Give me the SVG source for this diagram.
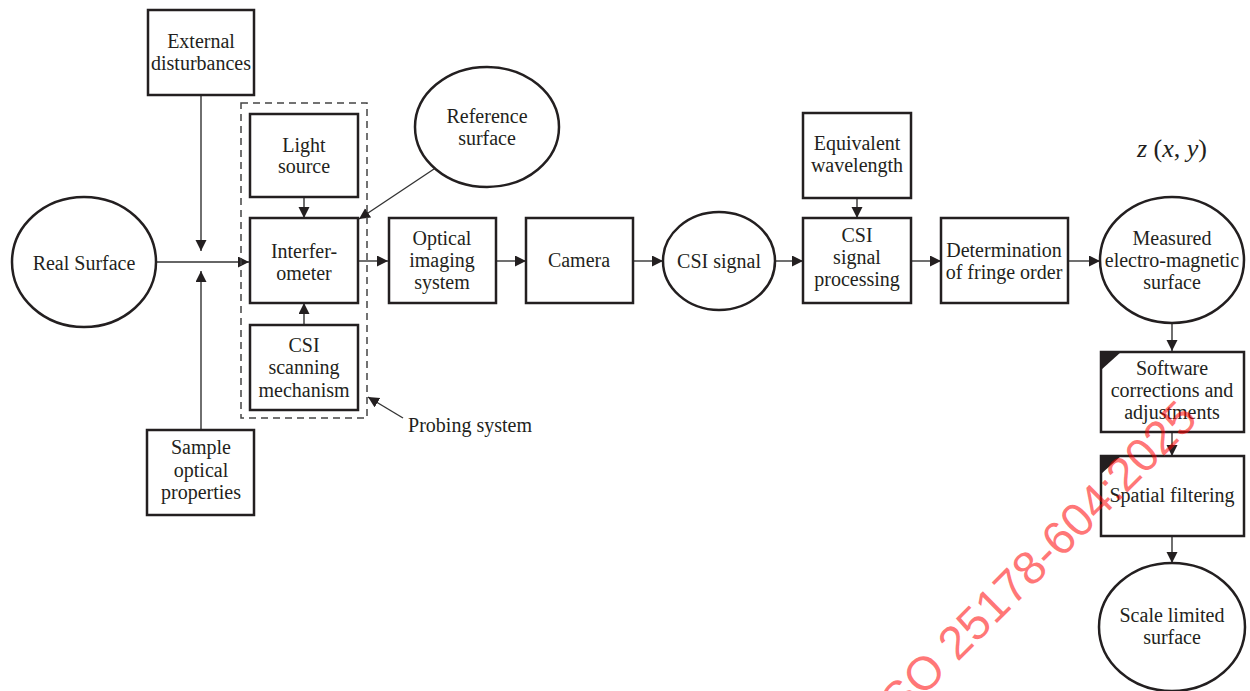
<svg xmlns="http://www.w3.org/2000/svg" width="1250" height="691" viewBox="0 0 1250 691">
<style>
.box{fill:#fff;stroke:#231f20;stroke-width:2.5}
.ell{fill:#fff;stroke:#231f20;stroke-width:2.5}
.t{font-family:"Liberation Serif","Times New Roman",serif;font-size:20px;fill:#231f20;text-anchor:middle}
.c{stroke:#333;stroke-width:1.4;fill:none}
.ca{stroke:#333;stroke-width:1.4;fill:none;marker-end:url(#ah)}
.tri{fill:#231f20}
</style>
<defs>
<marker id="ah" markerWidth="12" markerHeight="12" refX="11" refY="5.5" orient="auto" markerUnits="userSpaceOnUse">
<path d="M0,0 L11,5.5 L0,11 Z" fill="#231f20"/>
</marker>
</defs>
<rect width="1250" height="691" fill="#fff"/>
<g id="connectors">
<line class="ca" x1="201" y1="95" x2="201" y2="251"/>
<line class="ca" x1="201" y1="430" x2="201" y2="271"/>
<line class="ca" x1="156" y1="262" x2="249" y2="262"/>
<line class="ca" x1="304" y1="197" x2="304" y2="218"/>
<line class="ca" x1="304" y1="325" x2="304" y2="303"/>
<line class="ca" x1="437" y1="167" x2="359" y2="219"/>
<line class="ca" x1="358" y1="261" x2="388" y2="261"/>
<line class="ca" x1="496" y1="261" x2="526" y2="261"/>
<line class="ca" x1="633" y1="261" x2="663" y2="261"/>
<line class="ca" x1="776" y1="261" x2="803" y2="261"/>
<line class="ca" x1="857" y1="198" x2="857" y2="218"/>
<line class="ca" x1="911" y1="261" x2="941" y2="261"/>
<line class="ca" x1="1068" y1="261" x2="1100" y2="261"/>
<line class="ca" x1="1172" y1="324" x2="1172" y2="351"/>
<line class="ca" x1="1172" y1="432" x2="1172" y2="456"/>
<line class="ca" x1="1172" y1="536" x2="1172" y2="563"/>
<line class="ca" x1="403" y1="418" x2="368" y2="397"/>
</g>
<g id="probing-system">
<rect x="241" y="103" width="126" height="315" fill="none" stroke="#444" stroke-width="1.5" stroke-dasharray="7,5"/>
<text class="t" x="470" y="432">Probing system</text>
</g>
<g id="external-disturbances">
<rect class="box" x="148" y="10" width="106" height="85"/>
<text class="t" x="201" y="48">External</text>
<text class="t" x="201" y="70">disturbances</text>
</g>
<g id="real-surface">
<ellipse class="ell" cx="84" cy="262" rx="72" ry="65"/>
<text class="t" x="84" y="270">Real Surface</text>
</g>
<g id="sample-optical-properties">
<rect class="box" x="147" y="430" width="107" height="85"/>
<text class="t" x="201" y="454">Sample</text>
<text class="t" x="201" y="477">optical</text>
<text class="t" x="201" y="499">properties</text>
</g>
<g id="light-source">
<rect class="box" x="250" y="114" width="108" height="83"/>
<text class="t" x="304" y="152">Light</text>
<text class="t" x="304" y="173">source</text>
</g>
<g id="interferometer">
<rect class="box" x="250" y="218" width="108" height="85"/>
<text class="t" x="304" y="258">Interfer-</text>
<text class="t" x="304" y="280">ometer</text>
</g>
<g id="csi-scanning">
<rect class="box" x="250" y="325" width="108" height="85"/>
<text class="t" x="304" y="352">CSI</text>
<text class="t" x="304" y="374">scanning</text>
<text class="t" x="304" y="397">mechanism</text>
</g>
<g id="reference-surface">
<ellipse class="ell" cx="487" cy="127" rx="72" ry="60"/>
<text class="t" x="487" y="123">Reference</text>
<text class="t" x="487" y="145">surface</text>
</g>
<g id="optical-imaging">
<rect class="box" x="389" y="218" width="107" height="85"/>
<text class="t" x="442" y="245">Optical</text>
<text class="t" x="442" y="267">imaging</text>
<text class="t" x="442" y="289">system</text>
</g>
<g id="camera">
<rect class="box" x="526" y="218" width="107" height="85"/>
<text class="t" x="579" y="267">Camera</text>
</g>
<g id="csi-signal">
<ellipse class="ell" cx="719" cy="261" rx="56" ry="49"/>
<text class="t" x="719" y="268">CSI signal</text>
</g>
<g id="equivalent-wavelength">
<rect class="box" x="803" y="113" width="108" height="85"/>
<text class="t" x="857" y="150">Equivalent</text>
<text class="t" x="857" y="172">wavelength</text>
</g>
<g id="csi-signal-processing">
<rect class="box" x="803" y="218" width="108" height="85"/>
<text class="t" x="857" y="242">CSI</text>
<text class="t" x="857" y="264">signal</text>
<text class="t" x="857" y="286">processing</text>
</g>
<g id="fringe-order">
<rect class="box" x="941" y="218" width="127" height="85"/>
<text class="t" x="1004" y="257">Determination</text>
<text class="t" x="1004" y="279">of fringe order</text>
</g>
<g id="measured-surface">
<ellipse class="ell" cx="1172" cy="260" rx="72" ry="63"/>
<text class="t" x="1172" y="245">Measured</text>
<text class="t" x="1172" y="267">electro-magnetic</text>
<text class="t" x="1172" y="289">surface</text>
</g>
<g id="zxy">
<text x="1172" y="157" style="font-family:'Liberation Serif','Times New Roman',serif;font-size:26px;fill:#231f20;text-anchor:middle"><tspan font-style="italic">z</tspan> (<tspan font-style="italic">x</tspan>, <tspan font-style="italic">y</tspan>)</text>
</g>
<g id="software-corrections">
<rect class="box" x="1101" y="352" width="143" height="80"/>
<path class="tri" d="M1101,352 L1121,352 L1101,370 Z"/>
<text class="t" x="1172" y="375">Software</text>
<text class="t" x="1172" y="397">corrections and</text>
<text class="t" x="1172" y="419">adjustments</text>
</g>
<g id="spatial-filtering">
<rect class="box" x="1101" y="456" width="143" height="80"/>
<path class="tri" d="M1101,456 L1121,456 L1101,474 Z"/>
<text class="t" x="1172" y="502">Spatial filtering</text>
</g>
<g id="scale-limited-surface">
<ellipse class="ell" cx="1172" cy="627" rx="73" ry="64"/>
<text class="t" x="1172" y="622">Scale limited</text>
<text class="t" x="1172" y="644">surface</text>
</g>
<g id="watermark">
<text x="891" y="729" transform="rotate(-45 891 729)" style="font-family:'Liberation Sans',Arial,sans-serif;font-size:47px;fill:#ff0000;fill-opacity:0.55">ISO 25178-604:2025</text>
</g>
</svg>
